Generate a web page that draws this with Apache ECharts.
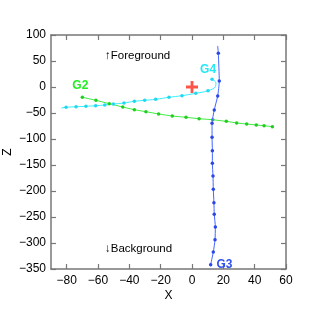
<!DOCTYPE html>
<html>
<head>
<meta charset="utf-8">
<script src="https://cdn.jsdelivr.net/npm/echarts@6/dist/echarts.min.js"></script>
<style>html,body{margin:0;padding:0;background:#fff;}#c{width:316px;height:317px;}</style>
</head>
<body>
<div id="c"></div>
<script>
// Data (X, Z)
var xTicks = [-80, -60, -40, -20, 0, 20, 40, 60];
var zTicks = [100, 50, 0, -50, -100, -150, -200, -250, -300, -350];

var g3X = [16.4, 16.8, 17.4, 16.4, 14.2, 12.8, 12.8, 13.0, 13.0, 13.4, 13.6, 14.0, 14.2, 14.9, 14.7, 13.6, 11.9];
var g3Z = [79, 64.8, 11.5, -17.3, -44.2, -69.8, -96.7, -122.5, -146.7, -171.2, -196.7, -222.5, -244.8, -269.2, -293.7, -317.3, -341.7];

var g2X = [-70.0, -61.3, -52.8, -44.2, -36.8, -29.4, -21.3, -12.6, -3.8, 4.5, 13.2, 21.9, 28.5, 34.9, 41.0, 46.0, 51.3];
var g2Z = [-19.8, -25.6, -32.1, -38.5, -43.7, -47.5, -51.9, -55.8, -58.3, -61.0, -62.9, -66.0, -69.2, -71.2, -73.1, -74.4, -76.3];

var g4X = [-83.4, -80.4, -74.0, -67.7, -61.5, -55.7, -50.2, -43.4, -36.8, -30.2, -23.2, -14.7, -6.4, 2.4, 10.2, 15.0, 15.3, 12.8];
var g4Z = [-40.4, -39.0, -37.9, -37.1, -36.0, -34.6, -32.7, -30.8, -27.5, -25.6, -23.7, -19.8, -16.7, -12.1, -7.1, 1.0, 7.7, 14.8];

var originX = [0], originZ = [0];

function pairs(xs, zs) { return xs.map(function (v, i) { return [v, zs[i]]; }); }
function minus(v) { return String(v).replace('-', '\u2212'); }

var g3Data = pairs(g3X, g3Z).map(function (p, i, a) {
  var o = { value: p };
  if (i === 0) o.symbol = 'none';
  if (i === a.length - 1) o.label = { show: true, formatter: 'G3', position: 'right', distance: 4, color: '#3050f0', fontWeight: 'bold', fontSize: 12, fontFamily: 'Liberation Sans' };
  return o;
});
var g2Data = pairs(g2X, g2Z).map(function (p, i) {
  var o = { value: p };
  if (i === 0) o.label = { show: true, formatter: 'G2', position: 'top', distance: 4, offset: [-2, 0], color: '#22ee22', fontWeight: 'bold', fontSize: 12, fontFamily: 'Liberation Sans' };
  return o;
});
var g4Data = pairs(g4X, g4Z).map(function (p, i, a) {
  var o = { value: p };
  if (i === 0 || i === 15 || i === 16) o.symbol = 'none';
  if (i === a.length - 1) o.label = { show: true, formatter: 'G4', position: 'top', distance: 2, offset: [-4, 0], color: '#22e8f8', fontWeight: 'bold', fontSize: 12, fontFamily: 'Liberation Sans' };
  return o;
});

var axisColor = '#777';
var font = 'Liberation Sans';

var chart = echarts.init(document.getElementById('c'), null, { renderer: 'canvas' });
chart.setOption({
  animation: false,
  backgroundColor: '#fff',
  grid: { left: 51, right: 30, top: 35, bottom: 48, containLabel: false, outerBoundsMode: 'none' },
  xAxis: [{
    type: 'value', min: -90, max: 60, position: 'bottom',
    name: 'X', nameLocation: 'middle', nameGap: 21, nameMoveOverlap: false,
    nameTextStyle: { color: '#000', fontSize: 12, fontFamily: font },
    axisLine: { show: true, onZero: false, lineStyle: { color: axisColor, width: 1.5 } },
    axisTick: { show: true, inside: true, length: 5, customValues: xTicks, lineStyle: { color: axisColor, width: 1.2 } },
    axisLabel: { show: true, customValues: xTicks, color: '#000', fontSize: 12, fontFamily: font, margin: 6, formatter: minus },
    splitLine: { show: false }
  }, {
    type: 'value', min: -90, max: 60, position: 'top',
    axisLine: { show: true, onZero: false, lineStyle: { color: axisColor, width: 1.5 } },
    axisTick: { show: true, inside: true, length: 5, customValues: xTicks, lineStyle: { color: axisColor, width: 1.2 } },
    axisLabel: { show: false },
    splitLine: { show: false }
  }],
  yAxis: [{
    type: 'value', min: -350, max: 100, interval: 50, position: 'left',
    name: 'Z', nameLocation: 'middle', nameGap: 37, nameRotate: 90, nameMoveOverlap: false,
    nameTextStyle: { color: '#000', fontSize: 12, fontFamily: font },
    axisLine: { show: true, onZero: false, lineStyle: { color: axisColor, width: 1.5 } },
    axisTick: { show: true, inside: true, length: 5, lineStyle: { color: axisColor, width: 1.2 } },
    axisLabel: { show: true, color: '#000', fontSize: 12, fontFamily: font, margin: 5, formatter: minus },
    splitLine: { show: false }
  }, {
    type: 'value', min: -350, max: 100, interval: 50, position: 'right',
    axisLine: { show: true, onZero: false, lineStyle: { color: axisColor, width: 1.5 } },
    axisTick: { show: true, inside: true, length: 5, lineStyle: { color: axisColor, width: 1.2 } },
    axisLabel: { show: false },
    splitLine: { show: false }
  }],
  graphic: [
    { type: 'text', left: 105, top: 50, style: { text: '\u2191Foreground', fontSize: 11.5, fontFamily: font, fill: '#000' } },
    { type: 'text', left: 105, top: 243, style: { text: '\u2193Background', fontSize: 11.5, fontFamily: font, fill: '#000' } }
  ],
  series: [{
    name: 'G2', type: 'line', data: g2Data, symbol: 'circle', symbolSize: 3.5,
    lineStyle: { color: '#44ee44', width: 1 }, itemStyle: { color: '#22cc22' }, z: 3
  }, {
    name: 'G4', type: 'line', data: g4Data, symbol: 'circle', symbolSize: 3.5, smooth: 0.4,
    lineStyle: { color: '#33f0ff', width: 1 }, itemStyle: { color: '#22d8f0' }, z: 3
  }, {
    name: 'G3', type: 'line', data: g3Data, symbol: 'circle', symbolSize: 3.5, smooth: 0.2,
    lineStyle: { color: '#4466ff', width: 1 }, itemStyle: { color: '#2a48e8' }, z: 4
  }, {
    name: 'origin', type: 'scatter', data: pairs(originX, originZ),
    symbol: 'path://M4.6,0 L7.4,0 L7.4,4.6 L12,4.6 L12,7.4 L7.4,7.4 L7.4,12 L4.6,12 L4.6,7.4 L0,7.4 L0,4.6 L4.6,4.6 Z',
    symbolSize: 12, itemStyle: { color: '#ff2a1a' }, z: 5
  }]
});
</script>
</body>
</html>
